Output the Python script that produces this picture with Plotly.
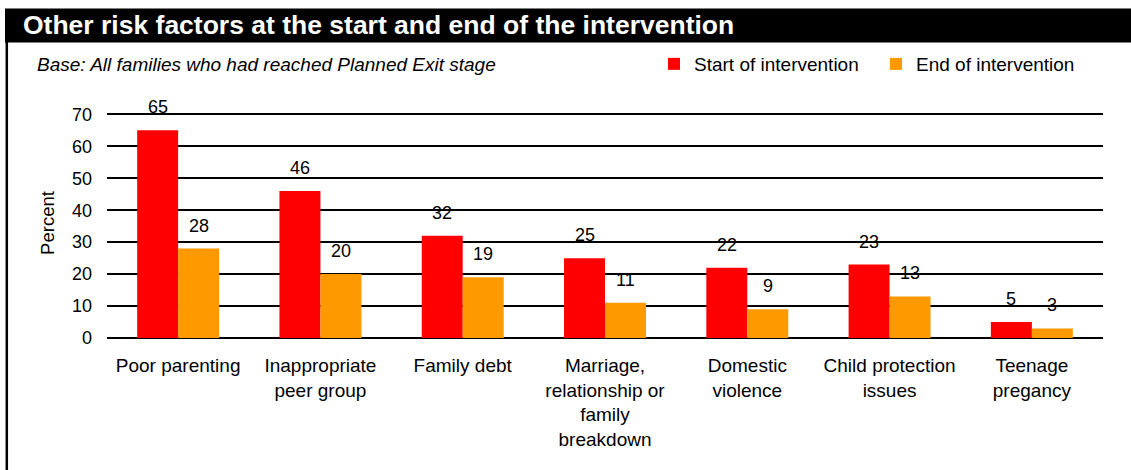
import plotly.graph_objects as go

categories = ["Poor parenting", "Inappropriate<br>peer group", "Family debt",
              "Marriage,<br>relationship or<br>family<br>breakdown",
              "Domestic<br>violence", "Child protection<br>issues", "Teenage<br>pregancy"]
start_vals = [65, 46, 32, 25, 22, 23, 5]
end_vals = [28, 20, 19, 11, 9, 13, 3]
y_ticks = [0, 10, 20, 30, 40, 50, 60, 70]

FONT = "Arial, Liberation Sans, sans-serif"
W, H = 1131, 470
Y_TOP = 72
L, R, B = 107, 28, 132
ph = round(224 * Y_TOP / 70)
T = H - B - ph
pw = W - L - R

def px_x(x):
    return (x - L) / pw

def px_y(y):
    return (H - B - y) / ph

fig = go.Figure()
fig.add_trace(go.Bar(name="Start of intervention", x=categories, y=start_vals,
                     marker=dict(color="#FF0000", line=dict(width=0))))
fig.add_trace(go.Bar(name="End of intervention", x=categories, y=end_vals,
                     marker=dict(color="#FF9900", line=dict(width=0))))

annotations = []
for c, v in zip(categories, start_vals):
    annotations.append(dict(x=c, y=v, xref="x", yref="y", text=str(v), showarrow=False,
                            xshift=-20.5, yshift=23, yanchor="middle",
                            font=dict(family=FONT, size=18, color="black")))
for c, v in zip(categories, end_vals):
    annotations.append(dict(x=c, y=v, xref="x", yref="y", text=str(v), showarrow=False,
                            xshift=20.5, yshift=23, yanchor="middle",
                            font=dict(family=FONT, size=18, color="black")))

annotations.append(dict(x=px_x(21), y=px_y(25.5), xref="paper", yref="paper",
                        text="<b>Other risk factors at the start and end of the intervention</b>",
                        showarrow=False, xanchor="left", yanchor="middle",
                        font=dict(family=FONT, size=26.5, color="white")))
annotations.append(dict(x=px_x(35), y=px_y(64), xref="paper", yref="paper",
                        text="<i>Base: All families who had reached Planned Exit stage</i>",
                        showarrow=False, xanchor="left", yanchor="middle",
                        font=dict(family=FONT, size=19, color="black")))

shapes = [
    dict(type="rect", xref="paper", yref="paper", x0=px_x(5), x1=px_x(1135),
         y0=px_y(42.5), y1=px_y(8.5), fillcolor="black", line=dict(width=0), layer="above"),
    dict(type="line", xref="paper", yref="paper", x0=px_x(6.8), x1=px_x(6.8),
         y0=px_y(9), y1=px_y(475), line=dict(color="black", width=2.5)),
]

fig.update_layout(
    width=W, height=H,
    margin=dict(l=L, r=R, t=T, b=B, autoexpand=False),
    paper_bgcolor="white", plot_bgcolor="white",
    barmode="group", bargap=0.424, bargroupgap=0,
    font=dict(family=FONT, size=18, color="black"),
    showlegend=True,
    legend=dict(orientation="h", xref="container", yref="container",
                x=654 / W, y=1 - 64 / H, xanchor="left", yanchor="middle",
                font=dict(family=FONT, size=19, color="black"),
                entrywidth=177, entrywidthmode="pixels", itemwidth=30,
                bgcolor="rgba(0,0,0,0)", traceorder="normal"),
    xaxis=dict(showgrid=False, showline=False, ticks="", tickangle=0,
               ticklabelstandoff=14,
               tickfont=dict(family=FONT, size=19, color="black")),
    yaxis=dict(range=[0, Y_TOP], tickvals=y_ticks, showgrid=True, gridcolor="black",
               gridwidth=1.5, zeroline=True, zerolinecolor="black", zerolinewidth=1.5,
               showline=False, ticks="", ticklabelstandoff=14,
               tickfont=dict(family=FONT, size=18, color="black"),
               title=dict(text="Percent", standoff=12,
                          font=dict(family=FONT, size=18.5, color="black"))),
    annotations=annotations,
    shapes=shapes,
)

fig.write_html("out.html", config={"displayModeBar": False},
               post_script="document.body.style.margin='0';document.body.style.padding='0';")
